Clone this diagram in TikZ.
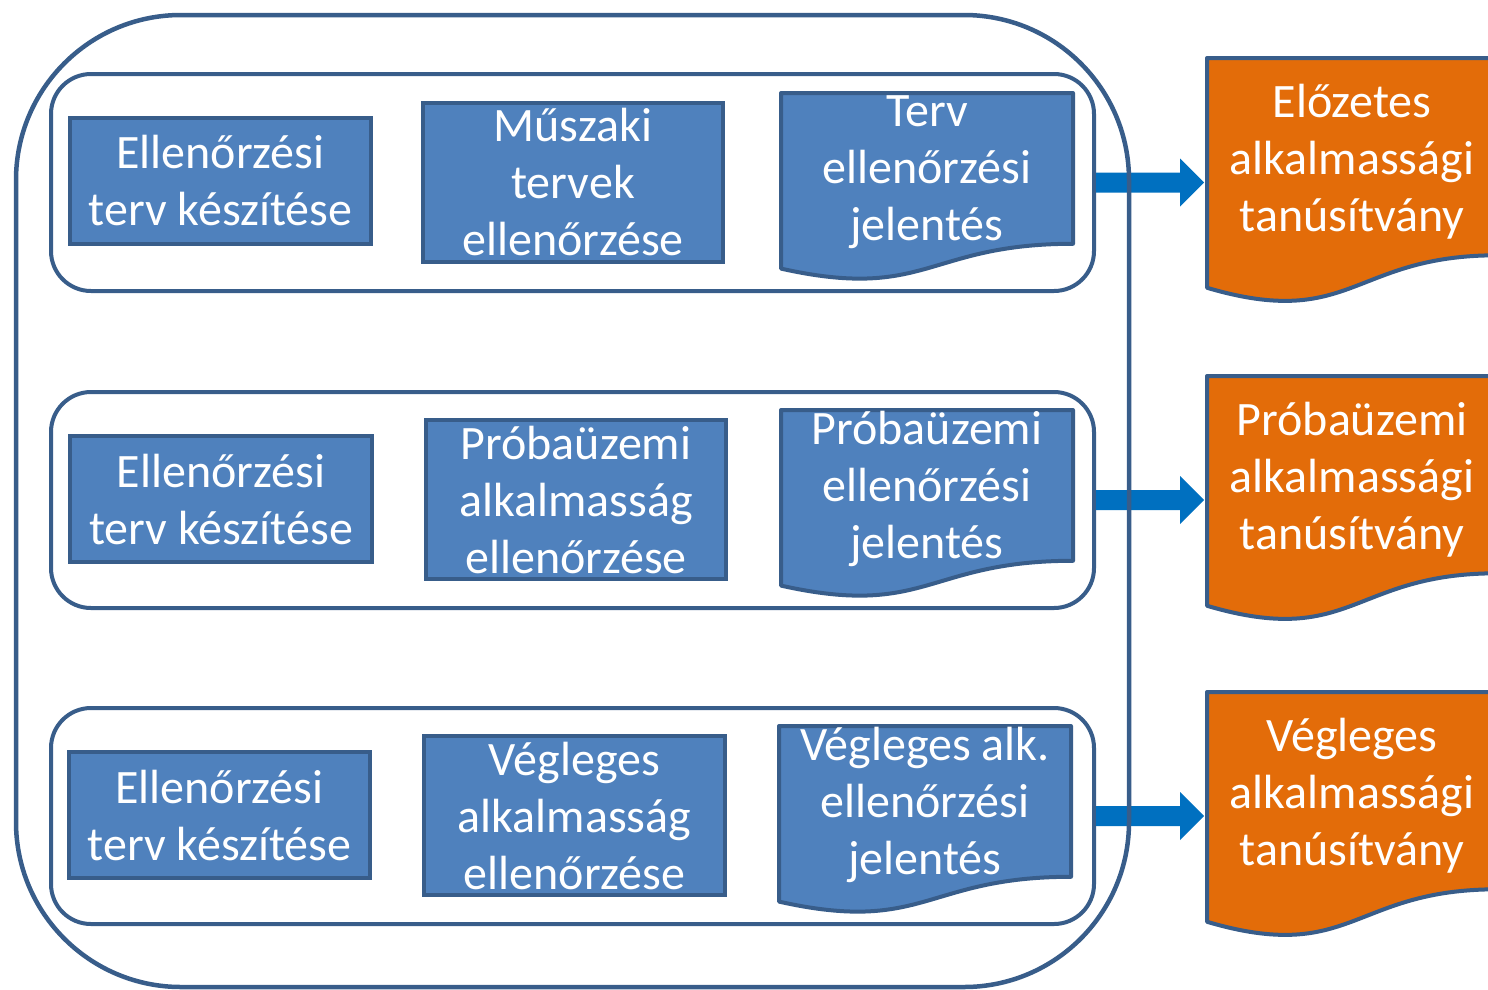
\documentclass[tikz,border=0pt]{standalone}
\usepackage{fontspec}
\setmainfont{Carlito}
\usetikzlibrary{calc}
\definecolor{boxblue}{HTML}{4F81BD}
\definecolor{edgeblue}{HTML}{385D8A}
\definecolor{docorange}{HTML}{E36C09}
\definecolor{arrowblue}{HTML}{0070C0}
\tikzset{
  txt/.style={text=white, font=\fontsize{48}{57}\selectfont, align=center, inner sep=0pt},
  stepbox/.style={draw=edgeblue, fill=boxblue, line width=4pt, txt},
  panel/.style={draw=edgeblue, fill=white, line width=4pt, rounded corners=40pt, inner sep=0pt},
  outerbox/.style={draw=edgeblue, line width=4.5pt, rounded corners=165pt},
  bluedoc/.style={draw=edgeblue, fill=boxblue, line width=4pt, line join=round},
  orangedoc/.style={draw=edgeblue, fill=docorange, line width=4pt, line join=round},
  blockarrow/.style={fill=arrowblue, draw=none},
}
% #1 left, #2 top, #3 width, #4 height, #5 style
\newcommand\docshape[5]{%
  \draw[#5] (#1,#2) -- (#1+#3,#2) -- (#1+#3,#2+0.802*#4)
    .. controls (#1+0.5*#3,#2+0.802*#4) and (#1+0.5*#3,#2+1.1075*#4) ..
    (#1,#2+0.934*#4) -- cycle;}
\begin{document}
\begin{tikzpicture}[x=1pt,y=-1pt]
\useasboundingbox (0,0) rectangle (1488,989);
\clip (0,0) rectangle (1488,989);
\fill[white] (0,0) rectangle (1488,989);

% panels
\node[panel, minimum width=1043pt, minimum height=217pt] (p1) at (572.5,182.5) {};
\node[panel, minimum width=1043pt, minimum height=216pt] (p2) at (572.5,500) {};
\node[panel, minimum width=1043pt, minimum height=216pt] (p3) at (572.5,816) {};

% row 1
\node[stepbox, minimum width=301pt, minimum height=126pt] (a1) at (220.5,181) {Ellenőrzési\\terv készítése};
\node[stepbox, minimum width=300pt, minimum height=159pt] (b1) at (573,182.5) {Műszaki\\tervek\\ellenőrzése};
\docshape{781}{93}{292}{188}{bluedoc}
\node[txt] (c1) at (927,172) {Terv\\ellenőrzési\\jelentés};

% row 2
\node[stepbox, minimum width=302pt, minimum height=126pt] (a2) at (221,499) {Ellenőrzési\\terv készítése};
\node[stepbox, minimum width=300pt, minimum height=159pt] (b2) at (576,499.5) {Próbaüzemi\\alkalmasság\\ellenőrzése};
\docshape{781}{410}{292}{188}{bluedoc}
\node[txt] (c2) at (927,489) {Próbaüzemi\\ellenőrzési\\jelentés};

% row 3
\node[stepbox, minimum width=301pt, minimum height=126pt] (a3) at (219.5,815) {Ellenőrzési\\terv készítése};
\node[stepbox, minimum width=301pt, minimum height=159pt] (b3) at (574.5,815.5) {Végleges\\alkalmasság\\ellenőrzése};
\docshape{779}{726}{292}{188}{bluedoc}
\node[txt] (c3) at (925,805) {Végleges alk.\\ellenőrzési\\jelentés};

% orange certificates
\docshape{1207}{58}{290}{246}{orangedoc}
\node[txt] (o1) at (1352,162) {Előzetes\\alkalmassági\\tanúsítvány};
\docshape{1207}{376}{290}{246}{orangedoc}
\node[txt] (o2) at (1352,480) {Próbaüzemi\\alkalmassági\\tanúsítvány};
\docshape{1207}{692}{290}{246}{orangedoc}
\node[txt] (o3) at (1352,796) {Végleges\\alkalmassági\\tanúsítvány};

\coordinate (t1) at (1204,182.5);
\coordinate (t2) at (1204,500);
\coordinate (t3) at (1204,816);

% arrows
\foreach \i in {1,2,3}{
  \fill[blockarrow] ($(p\i.east)+(0,-10)$) -- ($(t\i)+(-24,-10)$) -- ($(t\i)+(-24,-24)$)
    -- (t\i) -- ($(t\i)+(-24,24)$) -- ($(t\i)+(-24,10)$) -- ($(p\i.east)+(0,10)$) -- cycle;
}

% outer frame
\draw[outerbox] (16,15) rectangle (1129,987);
\end{tikzpicture}
\end{document}
